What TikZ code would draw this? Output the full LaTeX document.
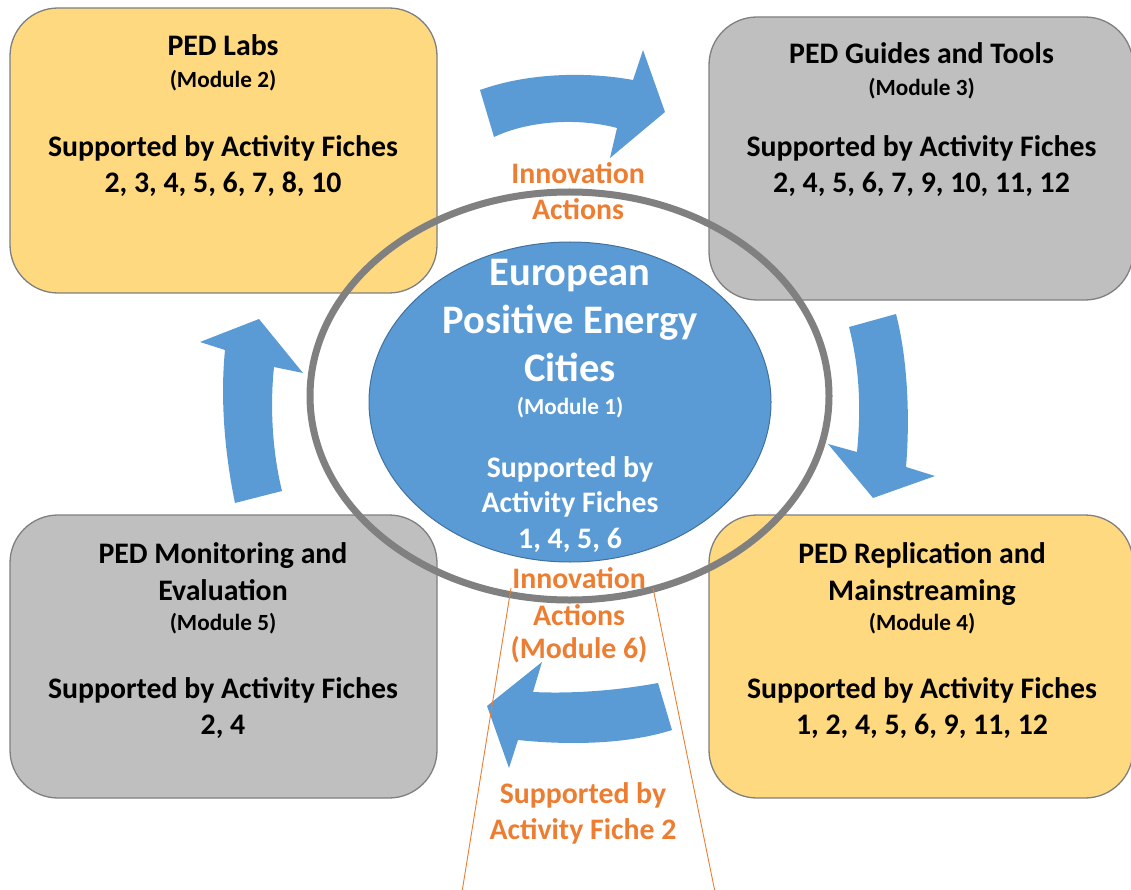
\documentclass[tikz,border=0pt]{standalone}
\usepackage{fontspec}
\setmainfont{Carlito}
\usetikzlibrary{shapes.geometric}
\definecolor{boxyellow}{HTML}{FFD97F}
\definecolor{boxgray}{HTML}{BFBFBF}
\definecolor{boxedge}{HTML}{7F7F7F}
\definecolor{pedblue}{HTML}{5B9BD5}
\definecolor{pededge}{HTML}{41719C}
\definecolor{ringgray}{HTML}{808080}
\definecolor{pedorange}{HTML}{ED7D31}
\tikzset{
  modbox/.style={draw=boxedge, line width=1.3pt, rounded corners=48pt, inner sep=0pt},
  maintxt/.style={font=\fontsize{29.8}{36}\selectfont\bfseries, anchor=base, inner sep=0pt},
  smalltxt/.style={font=\fontsize{23.2}{28}\selectfont\bfseries, anchor=base, inner sep=0pt},
  bigtxt/.style={font=\fontsize{40.5}{48}\selectfont\bfseries, anchor=base, inner sep=0pt, text=white},
  blockarrow/.style={fill=pedblue, draw=none},
  guide/.style={draw=pedorange, line width=0.9pt},
}
\begin{document}
\begin{tikzpicture}[x=1pt, y=-1pt]
\useasboundingbox (0,0) rectangle (1131,890);
% module boxes
\node[modbox, fill=boxyellow, minimum width=427pt, minimum height=285pt] (labs) at (223.5,150.5) {};
\node[modbox, fill=boxgray, minimum width=424pt, minimum height=283pt] (guides) at (921,158.5) {};
\node[modbox, fill=boxgray, minimum width=427pt, minimum height=283pt] (monit) at (223.5,656.5) {};
\node[modbox, fill=boxyellow, minimum width=424pt, minimum height=283pt] (repl) at (921,656.5) {};
% box texts
\node[maintxt] (labs1) at (223,56) {PED Labs};
\node[smalltxt] (labs2) at (223,88) {(Module 2)};
\node[maintxt] (labs3) at (223,157) {Supported by Activity Fiches};
\node[maintxt] (labs4) at (223,193) {2, 3, 4, 5, 6, 7, 8, 10};
\node[maintxt] (gui1) at (921.5,64) {PED Guides and Tools};
\node[smalltxt] (gui2) at (921.5,96) {(Module 3)};
\node[maintxt] (gui3) at (921.5,157) {Supported by Activity Fiches};
\node[maintxt] (gui4) at (921.5,193) {2, 4, 5, 6, 7, 9, 10, 11, 12};
\node[maintxt] (mon1) at (223,563) {PED Monitoring and};
\node[maintxt] (mon2) at (223,600) {Evaluation};
\node[smalltxt] (mon3) at (223,630) {(Module 5)};
\node[maintxt] (mon4) at (223,698) {Supported by Activity Fiches};
\node[maintxt] (mon5) at (223,734) {2, 4};
\node[maintxt] (rep1) at (922,563) {PED Replication and};
\node[maintxt] (rep2) at (922,600) {Mainstreaming};
\node[smalltxt] (rep3) at (922,630) {(Module 4)};
\node[maintxt] (rep4) at (922,698) {Supported by Activity Fiches};
\node[maintxt] (rep5) at (922,734) {1, 2, 4, 5, 6, 9, 11, 12};
% central ellipse and ring
\node[ellipse, fill=pedblue, draw=pededge, line width=1pt, minimum width=402pt, minimum height=320pt, inner sep=0pt] (core) at (570,402) {};
\node[ellipse, draw=ringgray, line width=7pt, minimum width=519pt, minimum height=408pt, inner sep=0pt] (ring) at (569.5,396) {};
\node[bigtxt] (c1) at (570,286) {European};
\node[bigtxt] (c2) at (570,333) {Positive Energy};
\node[bigtxt] (c3) at (570,381) {Cities};
\node[smalltxt, text=white] (c4) at (570,414) {(Module 1)};
\node[maintxt, text=white] (c5) at (570,477) {Supported by};
\node[maintxt, text=white] (c6) at (570,512) {Activity Fiches};
\node[maintxt, text=white] (c7) at (570,548) {1, 4, 5, 6};
% block arrows
\path[blockarrow] (480,90) .. controls (530,72) and (590,72) .. (633,80)
  -- (643,50) -- (665,112) -- (610,158) -- (617,128)
  .. controls (580,118) and (530,120) .. (494,137) -- cycle;
\path[blockarrow] (849,327) -- (896,314)
  .. controls (908,360) and (910,420) .. (906,467)
  -- (935,476) -- (873,498) -- (828,444) -- (857,452)
  .. controls (861,410) and (860,370) .. (849,327) -- cycle;
\path[blockarrow] (658,683) -- (672,730)
  .. controls (625,745) and (565,745) .. (518,740)
  -- (509,768) -- (487,706) -- (542,662) -- (533,692)
  .. controls (575,694) and (620,690) .. (658,683) -- cycle;
\path[blockarrow] (235,503) -- (282,491)
  .. controls (272,450) and (270,405) .. (274,367)
  -- (303,373) -- (259,319) -- (200,342) -- (225,350)
  .. controls (220,400) and (225,455) .. (235,503) -- cycle;
% orange guide lines
\coordinate (g1a) at (511,588);
\coordinate (g1b) at (462,892);
\coordinate (g2a) at (653,588);
\coordinate (g2b) at (715,892);
\draw[guide] (g1a) -- (g1b);
\draw[guide] (g2a) -- (g2b);
% orange labels
\node[maintxt, text=pedorange] (ia1) at (578,184) {Innovation};
\node[maintxt, text=pedorange] (ia2) at (578,220) {Actions};
\node[maintxt, text=pedorange] (ib1) at (579,588) {Innovation};
\node[maintxt, text=pedorange] (ib2) at (579,625) {Actions};
\node[maintxt, text=pedorange] (ib3) at (579,658) {(Module 6)};
\node[maintxt, text=pedorange] (sb1) at (583,803) {Supported by};
\node[maintxt, text=pedorange] (sb2) at (583,839) {Activity Fiche 2};
\end{tikzpicture}
\end{document}
